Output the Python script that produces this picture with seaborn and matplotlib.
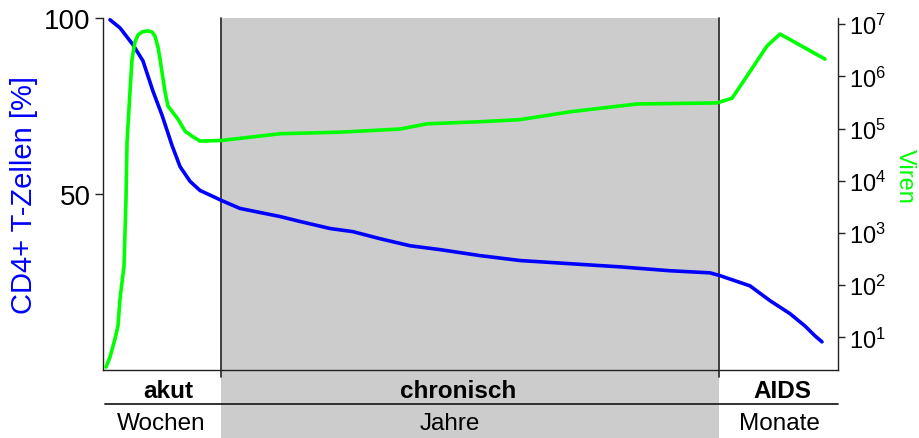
import numpy as np
import pandas as pd
import matplotlib
matplotlib.use("Agg")
import matplotlib.pyplot as plt
import matplotlib.transforms as mtransforms
import seaborn as sns

# Time in arbitrary units: 0 = infection, 100 = end of the course shown
cd4_time = [0.95, 2.31, 4.08, 5.44, 6.80, 8.03, 9.39, 10.48, 11.84, 13.20,
            14.97, 16.19, 18.64, 24.08, 26.80, 30.88, 34.01, 37.69, 41.77,
            45.85, 51.29, 56.73, 63.54, 70.34, 77.14, 82.59, 83.95, 88.03,
            90.75, 93.47, 95.51, 96.87, 97.82]
cd4_percent = [99.5, 97.2, 92.4, 87.8, 79.2, 72.4, 63.8, 57.8, 53.6, 51.0,
               49.3, 48.1, 45.9, 43.6, 42.2, 40.2, 39.3, 37.3, 35.3,
               34.2, 32.5, 31.1, 30.2, 29.3, 28.2, 27.6, 26.8, 23.9,
               19.7, 16.0, 12.5, 9.7, 8.0]

virus_time = [0.41, 0.95, 1.63, 2.04, 2.31, 2.86, 3.13, 3.27, 3.67, 3.95,
              4.35, 4.76, 5.31, 6.12, 6.67, 7.07, 7.48, 7.76, 8.44, 8.84,
              10.20, 11.16, 12.24, 13.20, 16.05, 24.08, 32.24, 40.41, 44.08,
              51.29, 56.73, 63.54, 72.65, 83.54, 85.58, 87.07, 90.34, 92.11,
              98.23]
virus_log10 = [0.43, 0.62, 0.97, 1.22, 1.73, 2.37, 3.65, 4.74, 5.70, 6.33,
               6.66, 6.79, 6.85, 6.87, 6.85, 6.77, 6.56, 6.33, 5.70, 5.43,
               5.18, 4.95, 4.84, 4.76, 4.77, 4.90, 4.93, 4.99, 5.09,
               5.13, 5.17, 5.32, 5.47, 5.49, 5.58, 5.89, 6.58, 6.81,
               6.33]

phase_names = ["akut", "chronisch", "AIDS"]
phase_units = ["Wochen", "Jahre", "Monate"]
phase_edges = [0, 16.05, 83.8, 100]
name_x = [8.9, 48.3, 92.4]
unit_x = [7.9, 47.2, 92.0]

cd4_ticks = [50, 100]
virus_exponents = [1, 2, 3, 4, 5, 6, 7]

sns.set_style("ticks")
plt.rcParams["font.family"] = ["Liberation Sans", "DejaVu Sans"]
plt.rcParams["mathtext.fontset"] = "custom"
plt.rcParams["mathtext.rm"] = "Liberation Sans"
plt.rcParams["mathtext.it"] = "Liberation Sans"

BLUE = "#0000ff"
GREEN = "#00ff00"
INK = "#222222"

fig = plt.figure(figsize=(9.2, 4.39), dpi=100)
ax = fig.add_axes([103 / 920, 1 - 371 / 439, 735 / 920, 352 / 439])
ax2 = ax.twinx()

cd4 = pd.DataFrame({"t": cd4_time, "cd4": cd4_percent})
virus = pd.DataFrame({"t": virus_time, "load": 10 ** np.array(virus_log10)})

# chronic phase band, running down through the phase labels
ax.axvspan(phase_edges[1], phase_edges[2], ymin=-0.2, ymax=1,
           color="#cccccc", lw=0, clip_on=False, zorder=0)
for edge in phase_edges[1:3]:
    ax.plot([edge, edge], [-0.02, 1.0], transform=ax.get_xaxis_transform(),
            color="#333333", lw=1.3, clip_on=False, zorder=1)

sns.lineplot(data=cd4, x="t", y="cd4", ax=ax, color=BLUE, linewidth=2.6,
             zorder=3)
ax2.set_yscale("log")
sns.lineplot(data=virus, x="t", y="load", ax=ax2, color=GREEN, linewidth=2.6,
             zorder=3)

ax.set_xlim(phase_edges[0], phase_edges[-1])
ax.set_ylim(0, 100)
ax.set_xticks([])
ax.set_yticks(cd4_ticks)
ax.set_yticklabels([str(v) for v in cd4_ticks])
ax.tick_params(axis="y", direction="out", length=6, width=1.0, pad=3,
               labelsize=20, color=INK, labelcolor="black")
ax.set_xlabel("")
ax.set_ylabel("")

ax2.set_ylim(10 ** 0.374, 10 ** 7.117)
ax2.set_yticks([10.0 ** e for e in virus_exponents])
ax2.set_yticklabels([f"$10^{{{e}}}$" for e in virus_exponents])
ax2.yaxis.set_minor_locator(matplotlib.ticker.NullLocator())
ax2.tick_params(axis="y", direction="out", length=5, width=1.0, pad=3,
                labelsize=17, color=INK, labelcolor="black")
ax2.set_ylabel("")

for s in ["top", "right"]:
    ax.spines[s].set_visible(False)
for s in ["top", "left", "bottom"]:
    ax2.spines[s].set_visible(False)
for sp in [ax.spines["left"], ax.spines["bottom"], ax2.spines["right"]]:
    sp.set_color(INK)
    sp.set_linewidth(1.0)

# phase labels below the axis
trans = mtransforms.blended_transform_factory(ax.transData, ax.transAxes)
for name, unit, nx, ux in zip(phase_names, phase_units, name_x, unit_x):
    ax.text(nx, -0.0767, name, transform=trans, ha="center",
            va="baseline", fontsize=17.5, fontweight="bold", color="black")
    ax.text(ux, -0.169, unit, transform=trans, ha="center",
            va="baseline", fontsize=17.5, color="black")
ax.plot([0.3, 100], [-0.0966, -0.0966], transform=trans, color=INK,
        lw=1.3, clip_on=False, zorder=2)

fig.text(24 / 920, 1 - 195 / 439, "CD4+ T-Zellen [%]", rotation=90,
         ha="center", va="center", fontsize=21, color=BLUE)
fig.text(905 / 920, 1 - 176 / 439, "Viren", rotation=270,
         ha="center", va="center", fontsize=17, color=GREEN)

fig.savefig("out.png", dpi=100)
